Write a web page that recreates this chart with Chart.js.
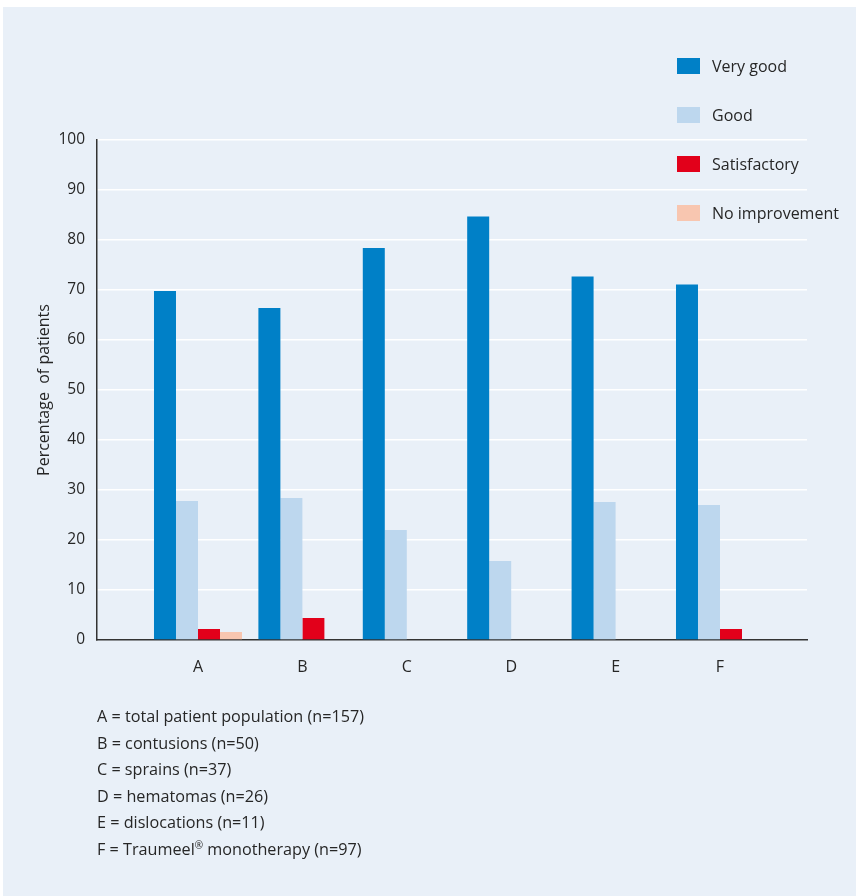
<!DOCTYPE html>
<html>
<head>
<meta charset="utf-8">
<script src="https://cdn.jsdelivr.net/npm/chart.js@4.4.1/dist/chart.umd.min.js"></script>
<style>
  html, body { margin: 0; padding: 0; background: #ffffff; }
  body { width: 856px; height: 896px; position: relative; overflow: hidden;
         font-family: "Open Sans", "Noto Sans", sans-serif; color: #262626; }
  #panel { position: absolute; left: 3px; top: 7px; right: 0; bottom: 0; background: #e9f0f8; }
  #wrap { position: absolute; left: 0; top: 0; width: 856px; height: 896px; }
  #legend { position: absolute; left: 677px; top: 0; margin: 0; padding: 0; list-style: none; }
  #legend li { position: absolute; left: 0; white-space: nowrap; font-size: 16px; height: 20px; line-height: 20px; }
  #legend li span.box { position: absolute; left: 0; top: 2px; width: 23px; height: 16px; }
  #legend li span.txt { position: absolute; left: 35px; top: 0; }
  #notes { position: absolute; left: 97px; top: 703px; font-size: 16.2px; line-height: 26.5px; }
  #notes sup { font-size: 10px; vertical-align: 0; position: relative; top: -6px; }
</style>
</head>
<body>
<div id="panel"></div>
<div id="wrap"><canvas id="chart" width="856" height="896"></canvas></div>
<ul id="legend"></ul>
<div id="notes"></div>
<script>
// Outcome ratings per patient group (% of patients)
const categories = ['A', 'B', 'C', 'D', 'E', 'F'];
const seriesNames = ['Very good', 'Good', 'Satisfactory', 'No improvement'];
const veryGood      = [69.8, 66.4, 78.4, 84.7, 72.7, 71.1];
const good          = [27.8, 28.4, 22.0, 15.8, 27.6, 27.0];
const satisfactory  = [2.2, 4.4, 0, 0, 0, 2.2];
const noImprovement = [1.6, 0, 0, 0, 0, 0];
const yTicks = [0, 10, 20, 30, 40, 50, 60, 70, 80, 90, 100];
const groupNotes = [
  ['A = total patient population (n=157)'],
  ['B = contusions (n=50)'],
  ['C = sprains (n=37)'],
  ['D = hematomas (n=26)'],
  ['E = dislocations (n=11)'],
  ['F = Traumeel', '\u00ae', ' monotherapy (n=97)']
];

const colors = ['#0080c7', '#bdd7ee', '#e2001a', '#f8c6b0'];
const seriesValues = [veryGood, good, satisfactory, noImprovement];

const datasets = seriesValues.map((vals, s) => ({
  label: seriesNames[s],
  data: vals.map((v, i) => ({ x: i, y: v })),
  backgroundColor: colors[s],
  borderWidth: 0,
  barPercentage: 1.0,
  categoryPercentage: 0.843
}));

const FONT = '"Open Sans", "Noto Sans", sans-serif';
const TEXT = '#262626';

new Chart(document.getElementById('chart'), {
  type: 'bar',
  data: { datasets },
  options: {
    responsive: false,
    animation: false,
    events: [],
    layout: { padding: { left: 0, top: 140, right: 49, bottom: 216 } },
    plugins: { legend: { display: false }, tooltip: { enabled: false } },
    scales: {
      x: {
        type: 'linear',
        offset: false,
        min: -0.9674,
        max: 5.8334,
        grid: { display: false },
        border: { display: true, color: '#333333', width: 1.5 },
        afterBuildTicks: (scale) => { scale.ticks = categories.map((c, i) => ({ value: i })); },
        afterFit: (scale) => { scale.height = 40; },
        ticks: {
          autoSkip: false,
          maxRotation: 0,
          padding: 10,
          color: TEXT,
          font: { family: FONT, size: 16 },
          callback: (v) => categories[v]
        }
      },
      y: {
        min: 0,
        max: 100,
        afterBuildTicks: (scale) => { scale.ticks = yTicks.map(v => ({ value: v })); },
        afterFit: (scale) => { scale.width = 97; },
        grid: {
          drawTicks: false,
          lineWidth: 1.5,
          color: (ctx) => (ctx.tick && ctx.tick.value === 0 ? 'rgba(0,0,0,0)' : '#ffffff')
        },
        border: { display: true, color: '#333333', width: 1.5 },
        ticks: { padding: 12, color: TEXT, font: { family: FONT, size: 15.5 } },
        title: {
          display: true,
          text: 'Percentage  of patients',
          color: TEXT,
          font: { family: FONT, size: 16 },
          padding: { top: 35, bottom: 0 }
        }
      }
    }
  }
});

// Legend at top right
const legend = document.getElementById('legend');
seriesNames.forEach((name, s) => {
  const li = document.createElement('li');
  li.style.top = (56 + s * 49) + 'px';
  li.innerHTML = '<span class="box" style="background:' + colors[s] + '"></span><span class="txt"></span>';
  li.querySelector('.txt').textContent = name;
  legend.appendChild(li);
});

// Group key below the chart
const notes = document.getElementById('notes');
groupNotes.forEach(parts => {
  const d = document.createElement('div');
  parts.forEach((p, k) => {
    if (k === 1) {
      const sup = document.createElement('sup');
      sup.textContent = p;
      d.appendChild(sup);
    } else {
      d.appendChild(document.createTextNode(p));
    }
  });
  notes.appendChild(d);
});
</script>
</body>
</html>
